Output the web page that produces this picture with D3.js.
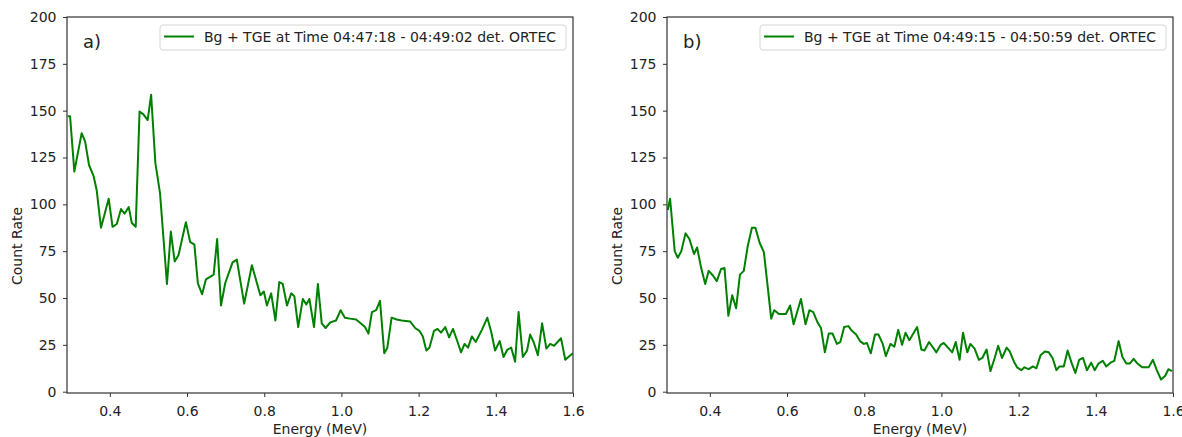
<!DOCTYPE html>
<html>
<head>
<meta charset="utf-8">
<script src="https://cdn.jsdelivr.net/npm/d3@7"></script>
<style>
  body { margin: 0; background: #fff; }
  text { font-family: "DejaVu Sans", sans-serif; fill: #222; }
</style>
</head>
<body>
<div id="wrapper"></div>
<script>
// x ticks / y ticks shared by both panels
let xTicks = [0.4, 0.6, 0.8, 1.0, 1.2, 1.4, 1.6];
let yTicks = [0, 25, 50, 75, 100, 125, 150, 175, 200];

let panelLabels = ["a)", "b)"];
let legendLabels = [
  "Bg + TGE at Time 04:47:18 - 04:49:02 det. ORTEC",
  "Bg + TGE at Time 04:49:15 - 04:50:59 det. ORTEC"
];

// panel a) spectrum
let energyA = [0.291,0.297,0.308,0.327,0.336,0.346,0.358,0.366,0.377,0.397,
  0.407,0.418,0.429,0.438,0.449,0.457,0.467,0.477,0.487,0.498,
  0.507,0.518,0.530,0.548,0.558,0.568,0.578,0.597,0.608,0.619,
  0.628,0.639,0.649,0.669,0.678,0.688,0.699,0.718,0.729,0.748,
  0.768,0.790,0.799,0.807,0.818,0.829,0.839,0.848,0.859,0.870,
  0.878,0.888,0.900,0.909,0.917,0.929,0.939,0.949,0.959,0.971,
  0.986,0.998,1.009,1.022,1.038,1.053,1.061,1.070,1.079,1.090,
  1.100,1.111,1.119,1.130,1.143,1.156,1.178,1.191,1.202,1.211,
  1.220,1.228,1.240,1.249,1.258,1.269,1.279,1.289,1.301,1.310,
  1.319,1.328,1.338,1.348,1.364,1.378,1.388,1.398,1.410,1.420,
  1.430,1.440,1.450,1.459,1.470,1.481,1.489,1.498,1.509,1.520,
  1.531,1.541,1.551,1.569,1.580,1.591,1.600];
let countA = [147,147,117.5,138,133.5,121,115,107.5,87.5,103,
  88,89.5,97.5,95,98.5,90,88,149.5,148,145,
  158.5,122,106,57.5,85.5,69.5,73,90.5,80,78.5,
  58,52,60,62.5,81.5,46,58,69,70.5,47,
  67.5,51.5,53.5,46,52.5,38,58.5,57.5,46,52.5,
  51,34.5,49.5,46.5,49.5,34.5,57.5,36.5,34,37,
  38,43.5,39.5,39,38.5,36,34.5,31,42.5,43.5,
  48.5,20.5,23.5,39.5,38.5,38,37.5,34,32.5,29.5,
  22,23.5,32.5,33.5,31.5,34.5,29,33.5,26.5,21,
  25.5,23.5,29.5,26.5,33,39.5,32,22,27,18.5,
  22.5,23.5,16,42.5,18.5,22,30.5,26.5,19.5,36.5,
  23,25.5,24.5,28.5,17,19,20.5];

// panel b) spectrum
let energyB = [0.291,0.297,0.309,0.317,0.326,0.337,0.347,0.359,0.367,0.377,
  0.388,0.397,0.408,0.418,0.429,0.438,0.448,0.458,0.468,0.478,
  0.488,0.498,0.509,0.518,0.529,0.540,0.559,0.567,0.579,0.597,
  0.608,0.617,0.636,0.648,0.658,0.668,0.679,0.688,0.698,0.708,
  0.718,0.729,0.738,0.748,0.759,0.768,0.779,0.789,0.799,0.807,
  0.817,0.828,0.837,0.848,0.856,0.868,0.878,0.888,0.898,0.907,
  0.917,0.937,0.948,0.956,0.968,0.987,0.998,1.006,1.017,1.028,
  1.037,1.047,1.056,1.067,1.075,1.086,1.097,1.106,1.117,1.127,
  1.138,1.147,1.157,1.169,1.177,1.188,1.196,1.207,1.215,1.226,
  1.237,1.246,1.257,1.268,1.278,1.288,1.298,1.306,1.317,1.327,
  1.337,1.347,1.357,1.367,1.377,1.388,1.397,1.407,1.418,1.427,
  1.438,1.448,1.459,1.469,1.479,1.488,1.498,1.508,1.520,1.537,
  1.548,1.558,1.569,1.580,1.588,1.597];
let countB = [97,103,75,71.5,75,84.5,81.5,73.5,77,66.5,
  57.5,64.5,62,59,65.5,66,40.5,51.5,44.5,62.5,
  64.5,77.5,87.5,87.5,79.5,74.5,39,43.5,41.5,41.5,
  46,36,49.5,36,43.5,42.5,37,34,21,31,
  31,25.5,26.5,34.5,35,32.5,30.5,27,25.5,26,
  20.5,30.5,30.5,25.5,19,25.5,24,33,25,31.5,
  27.5,34.5,22.5,22,26.5,21,25,26,23.5,21,
  26.5,17,31.5,21,25.5,23,17,18,22.5,11,
  18,24.5,18,23.5,21.5,16,13,11.5,13,12,
  13.5,12.5,19.5,21.5,21,18,11.5,13.5,13.5,22,
  15.5,10,17,18,11.5,15.5,11.5,15,16.5,13.5,
  15.5,16.5,27,18.5,15,15,17.5,15,13,13,
  17,11.5,6.5,8.5,12,11];

let dimensions = {
  width: 1182,
  height: 437,
  panelLefts: [67, 667],
  panelWidth: 506,
  top: 17,
  bottom: 393
};

let lineColor = "#008000";

function drawPanel(svg, i, energy, count) {
  let left = dimensions.panelLefts[i];
  let right = left + dimensions.panelWidth;

  let xScale = d3.scaleLinear().domain([0.289, 1.6]).range([left, right]);
  let yScale = d3
    .scaleLinear()
    .domain([-0.7, 200])
    .range([dimensions.bottom, dimensions.top]);

  let g = svg.append("g");

  let clipId = "clip" + i;
  g.append("clipPath")
    .attr("id", clipId)
    .append("rect")
    .attr("x", left)
    .attr("y", dimensions.top)
    .attr("width", right - left)
    .attr("height", dimensions.bottom - dimensions.top);

  let rows = energy.map((e, k) => ({ e: e, c: count[k] }));

  let line = d3
    .line()
    .x(d => xScale(d.e))
    .y(d => yScale(d.c));

  g.append("path")
    .datum(rows)
    .attr("clip-path", `url(#${clipId})`)
    .attr("d", line)
    .attr("fill", "none")
    .attr("stroke", lineColor)
    .attr("stroke-width", 2)
    .attr("stroke-linejoin", "round");

  // axes
  let xAxis = g
    .append("g")
    .attr("transform", `translate(0, ${dimensions.bottom})`)
    .call(
      d3.axisBottom(xScale)
        .tickValues(xTicks)
        .tickFormat(d3.format(".1f"))
        .tickSize(4)
        .tickPadding(9)
    );
  let yAxis = g
    .append("g")
    .attr("transform", `translate(${left}, 0)`)
    .call(
      d3.axisLeft(yScale)
        .tickValues(yTicks)
        .tickSize(4)
        .tickPadding(6.5)
    );

  [xAxis, yAxis].forEach(ax => {
    ax.select(".domain").remove();
    ax.selectAll(".tick line").attr("stroke", "#333");
    ax.selectAll(".tick text")
      .attr("font-size", 14)
      .attr("font-family", "DejaVu Sans")
      .attr("fill", "#222");
  });

  // frame
  g.append("rect")
    .attr("x", left)
    .attr("y", dimensions.top)
    .attr("width", right - left)
    .attr("height", dimensions.bottom - dimensions.top)
    .attr("fill", "none")
    .attr("stroke", "#333")
    .attr("stroke-width", 1.2);

  // axis labels
  g.append("text")
    .attr("x", (left + right) / 2)
    .attr("y", 434)
    .attr("text-anchor", "middle")
    .attr("font-size", 14)
    .text("Energy (MeV)");

  g.append("text")
    .attr("transform", `translate(${left - 45.5}, 246) rotate(-90)`)
    .attr("text-anchor", "middle")
    .attr("font-size", 14)
    .text("Count Rate");

  // panel letter
  g.append("text")
    .attr("x", left + 16)
    .attr("y", 48)
    .attr("font-size", 18)
    .text(panelLabels[i]);

  // legend
  let legendX = left + 93;
  let legend = g.append("g");
  legend.append("rect")
    .attr("x", legendX)
    .attr("y", 25)
    .attr("width", 406)
    .attr("height", 25)
    .attr("rx", 3)
    .attr("fill", "#fff")
    .attr("fill-opacity", 0.8)
    .attr("stroke", "#d6d6d6");
  legend.append("line")
    .attr("x1", legendX + 4)
    .attr("x2", legendX + 34)
    .attr("y1", 36.5)
    .attr("y2", 36.5)
    .attr("stroke", lineColor)
    .attr("stroke-width", 2);
  legend.append("text")
    .attr("x", legendX + 44)
    .attr("y", 41.5)
    .attr("font-size", 14)
    .text(legendLabels[i]);
}

function drawFunction() {
  let svg = d3
    .select("#wrapper")
    .append("svg")
    .attr("width", dimensions.width)
    .attr("height", dimensions.height);

  drawPanel(svg, 0, energyA, countA);
  drawPanel(svg, 1, energyB, countB);
}

drawFunction();
</script>
</body>
</html>
